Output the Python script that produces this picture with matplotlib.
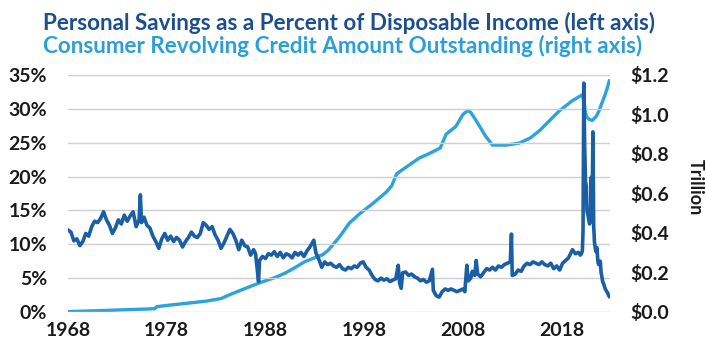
import matplotlib
matplotlib.use("Agg")
from matplotlib import pyplot as plt

# personal savings rate, % of disposable income
sav_year = [1968.0, 1968.3, 1968.6, 1968.9, 1969.2, 1969.5, 1969.8, 1970.1, 1970.4, 1970.7,
            1971.0, 1971.3, 1971.6, 1971.9, 1972.2, 1972.5, 1972.8, 1973.1, 1973.4, 1973.7,
            1974.0, 1974.3, 1974.6, 1974.9, 1975.2, 1975.33, 1975.45, 1975.7, 1976.0, 1976.3,
            1976.6, 1976.9, 1977.2, 1977.5, 1977.8, 1978.1, 1978.4, 1978.7, 1979.0, 1979.3,
            1979.6, 1979.9, 1980.2, 1980.5, 1980.8, 1981.1, 1981.4, 1981.7, 1982.0, 1982.3,
            1982.6, 1982.9, 1983.2, 1983.5, 1983.8, 1984.1, 1984.4, 1984.7, 1985.0, 1985.3,
            1985.6, 1985.9, 1986.2, 1986.5, 1986.8, 1987.0, 1987.3, 1987.4, 1987.7, 1988.0,
            1988.3, 1988.6, 1988.9, 1989.2, 1989.5, 1989.8, 1990.1, 1990.4, 1990.7, 1991.0,
            1991.3, 1991.6, 1991.9, 1992.2, 1992.5, 1992.9, 1993.1, 1993.4, 1993.7, 1994.0,
            1994.3, 1994.6, 1994.9, 1995.2, 1995.5, 1995.8, 1996.1, 1996.4, 1996.7, 1997.0,
            1997.3, 1997.6, 1997.9, 1998.2, 1998.5, 1998.8, 1999.1, 1999.4, 1999.7, 2000.0,
            2000.3, 2000.6, 2000.9, 2001.2, 2001.45, 2001.6, 2001.75, 2001.9, 2002.2, 2002.5,
            2002.8, 2003.1, 2003.4, 2003.7, 2004.0, 2004.3, 2004.6, 2004.92, 2005.0, 2005.3,
            2005.6, 2005.9, 2006.2, 2006.5, 2006.8, 2007.1, 2007.4, 2007.7, 2008.0, 2008.2,
            2008.4, 2008.55, 2008.8, 2008.95, 2009.2, 2009.35, 2009.5, 2009.8, 2010.1, 2010.4,
            2010.7, 2011.0, 2011.3, 2011.6, 2011.9, 2012.2, 2012.5, 2012.8, 2012.92, 2013.0,
            2013.3, 2013.6, 2013.9, 2014.2, 2014.5, 2014.8, 2015.1, 2015.4, 2015.7, 2016.0,
            2016.3, 2016.6, 2016.9, 2017.2, 2017.5, 2017.8, 2018.1, 2018.4, 2018.7, 2019.1,
            2019.4, 2019.7, 2019.9, 2020.0, 2020.1, 2020.17, 2020.25, 2020.33, 2020.42, 2020.5,
            2020.58, 2020.67, 2020.75, 2020.83, 2020.92, 2021.0, 2021.08, 2021.17, 2021.25, 2021.33,
            2021.42, 2021.5, 2021.58, 2021.67, 2021.75, 2021.83, 2021.92, 2022.0, 2022.08, 2022.17,
            2022.25, 2022.33, 2022.42, 2022.5, 2022.58, 2022.67, 2022.75, 2022.83]
sav_pct = [12.1, 11.8, 10.5, 10.8, 9.8, 10.4, 11.6, 11.2, 12.6, 13.4,
           13.2, 13.8, 14.8, 13.6, 12.8, 11.6, 12.4, 13.6, 13.0, 14.3,
           13.4, 14.2, 14.8, 12.6, 13.6, 17.3, 13.2, 14.0, 12.8, 12.4,
           11.2, 10.4, 9.4, 10.8, 11.6, 10.6, 11.2, 10.4, 11.0, 10.6,
           9.6, 10.4, 11.0, 11.8, 11.2, 11.0, 11.6, 13.2, 12.8, 12.2,
           12.6, 11.4, 10.6, 9.4, 10.2, 11.2, 12.2, 11.6, 10.6, 9.2,
           10.6, 9.8, 9.6, 8.4, 9.2, 8.6, 4.5, 7.6, 8.2, 7.9,
           8.6, 8.4, 8.9, 8.2, 8.8, 8.0, 8.6, 8.4, 8.0, 8.8,
           8.4, 8.8, 8.2, 9.0, 9.6, 10.6, 8.8, 7.8, 6.6, 7.4,
           7.0, 7.2, 6.8, 6.6, 7.0, 6.4, 6.2, 6.6, 6.4, 6.8,
           6.6, 7.2, 7.4, 6.6, 6.2, 5.4, 4.8, 4.6, 5.0, 4.7,
           4.9, 4.5, 4.7, 4.9, 6.9, 4.2, 3.5, 5.8, 5.9, 5.4,
           5.6, 5.2, 5.0, 4.6, 4.8, 4.4, 4.6, 6.3, 3.2, 2.4,
           2.2, 3.0, 3.4, 3.2, 3.4, 3.2, 3.0, 3.2, 3.4, 3.0,
           6.9, 4.6, 5.0, 6.0, 5.4, 7.6, 5.6, 5.2, 5.8, 6.4,
           6.2, 6.6, 6.2, 6.8, 6.6, 7.0, 7.2, 7.4, 11.5, 5.4,
           5.6, 6.2, 6.0, 6.8, 7.2, 7.0, 7.4, 7.2, 7.0, 7.4,
           7.0, 6.8, 7.2, 6.4, 6.8, 6.2, 7.2, 7.6, 8.0, 9.2,
           8.6, 8.8, 8.4, 8.6, 9.0, 12.0, 33.8, 24.9, 19.2, 18.7,
           14.8, 14.3, 13.6, 13.0, 13.4, 19.9, 13.5, 26.6, 12.7, 10.3,
           9.3, 8.9, 9.5, 7.5, 7.0, 7.2, 7.5, 5.8, 5.2, 4.4,
           4.2, 3.8, 3.4, 3.2, 3.0, 2.8, 2.5, 2.3]

# consumer revolving credit outstanding, $ trillion
cred_year = [1968.0, 1970.0, 1972.0, 1974.0, 1976.0, 1976.8, 1977.0, 1978.0, 1980.0, 1982.0,
             1983.5, 1984.5, 1985.5, 1986.5, 1987.7, 1989.0, 1990.0, 1991.0, 1992.0, 1993.0,
             1993.8, 1994.3, 1995.0, 1995.5, 1996.5, 1997.6, 1998.9, 2000.3, 2000.8, 2001.3,
             2002.3, 2003.6, 2004.5, 2005.7, 2006.3, 2007.3, 2008.0, 2008.5, 2008.8, 2009.2,
             2009.7, 2010.3, 2011.0, 2012.4, 2013.7, 2014.8, 2015.8, 2016.8, 2017.8, 2019.1,
             2020.1, 2020.25, 2020.5, 2020.8, 2021.1, 2021.5, 2021.8, 2022.1, 2022.4, 2022.6,
             2022.83]
cred_tn = [0.002, 0.005, 0.008, 0.012, 0.015, 0.017, 0.027, 0.033, 0.044, 0.055,
           0.068, 0.09, 0.11, 0.13, 0.153, 0.175, 0.197, 0.225, 0.255, 0.275,
           0.29, 0.31, 0.35, 0.38, 0.45, 0.50, 0.55, 0.61, 0.64, 0.70,
           0.735, 0.78, 0.80, 0.83, 0.90, 0.94, 1.00, 1.02, 1.01, 0.98,
           0.94, 0.89, 0.845, 0.845, 0.855, 0.88, 0.92, 0.97, 1.02, 1.07,
           1.10, 1.07, 0.99, 0.975, 0.97, 0.99, 1.02, 1.06, 1.10, 1.13,
           1.17]

year_ticks = [1968, 1978, 1988, 1998, 2008, 2018]
pct_ticks = [0, 5, 10, 15, 20, 25, 30, 35]
tn_ticks = [0, 0.2, 0.4, 0.6, 0.8, 1.0, 1.2]

dark = "#1a5ea6"
light = "#2ba3dc"
plt.rcParams["font.family"] = ["Lato", "DejaVu Sans"]

fig = plt.figure(figsize=(7.06, 3.47), dpi=100)
ax = fig.add_axes([0.0963, 0.1009, 0.7677, 0.683])
ax2 = ax.twinx()

ax2.plot(cred_year, cred_tn, color=light, lw=2.4, solid_joinstyle="round")
ax.plot(sav_year, sav_pct, color=dark, lw=2.6, solid_joinstyle="round")
ax.set_zorder(ax2.get_zorder() + 1)
ax.patch.set_visible(False)

ax.set_xlim(1968, 2022.9)
ax.set_ylim(0, 35)
ax2.set_ylim(0, 1.2)
ax.set_xticks(year_ticks)
ax.set_xticklabels([str(y) for y in year_ticks])
ax.set_yticks(pct_ticks)
ax.set_yticklabels([f"{p}%" for p in pct_ticks])
ax2.set_yticks(tn_ticks)
ax2.set_yticklabels([f"${t:.1f}" for t in tn_ticks])

ax.grid(axis="y", color="#cfcfcf", lw=1)
for a in (ax, ax2):
    for s in a.spines.values():
        s.set_visible(False)
    a.tick_params(length=0, labelsize=14, labelcolor="#1a1a1a")
    for lab in a.get_xticklabels() + a.get_yticklabels():
        lab.set_fontweight("bold")
ax.tick_params(axis="y", pad=15)
ax.tick_params(axis="x", pad=7)
ax2.tick_params(axis="y", pad=15)

fig.text(0.985, 0.461, "Trillion", rotation=270, ha="center", va="center",
         fontsize=13, fontweight="bold", color="#1a1a1a")

fig.text(0.061, 0.9135, "Personal Savings as a Percent of Disposable Income (left axis)",
         fontsize=16.2, fontweight="bold", color="#1d4f8c", va="baseline")
fig.text(0.061, 0.847, "Consumer Revolving Credit Amount Outstanding (right axis)",
         fontsize=16.2, fontweight="bold", color="#2a9fd8", va="baseline")

fig.savefig("out.png", dpi=100)
